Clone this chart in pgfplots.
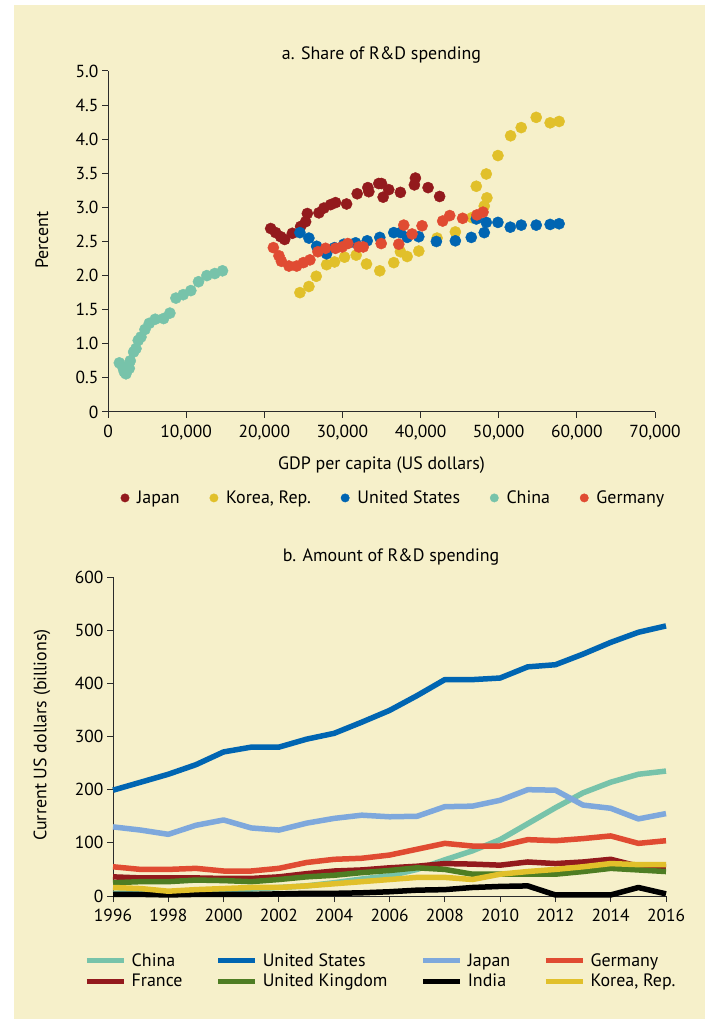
\documentclass[border=0pt]{standalone}
\usepackage{fontspec}
\setmainfont{PT Sans}
\usepackage{pgfplots}
\pgfplotsset{compat=1.18}

\definecolor{bg}{HTML}{F6F0CA}
\definecolor{axisc}{HTML}{2B2B2B}
\definecolor{jp}{HTML}{931A1D}
\definecolor{kr}{HTML}{E1C02A}
\definecolor{us}{HTML}{0065B2}
\definecolor{cn}{HTML}{77C3AA}
\definecolor{de}{HTML}{E04B32}
\definecolor{jpl}{HTML}{7EA8DC}
\definecolor{uk}{HTML}{4E7D23}

\pgfplotsset{
  rd/.style={
    scale only axis,
    axis lines=left,
    axis line style={-, line width=1bp, color=axisc},
    tick align=outside,
    major tick length=6bp,
    tick style={line width=1bp, color=axisc},
    /pgf/number format/assume math mode=true,
    tick label style={font=\fontsize{17.5}{20}\selectfont, color=black},
    xticklabel style={yshift=-4bp},
    label style={font=\fontsize{18}{21}\selectfont},
    title style={font=\fontsize{18}{21}\selectfont},
    legend style={draw=none, fill=none, font=\fontsize{18}{21}\selectfont},
    legend cell align=left,
    clip=false,
  },
}

\begin{document}
\begin{tikzpicture}
\fill[white] (0bp,0bp) rectangle (705bp,1019bp);
\fill[bg] (14bp,0bp) rectangle (705bp,1014bp);

% a. share of R&D spending
\begin{axis}[rd,
  at={(108bp,607bp)}, anchor=south west,
  width=547bp, height=341bp,
  xmin=0, xmax=70000, ymin=0, ymax=5,
  scaled x ticks=false,
  xtick={0,10000,20000,30000,40000,50000,60000,70000},
  xticklabels={0,{10,000},{20,000},{30,000},{40,000},{50,000},{60,000},{70,000}},
  ytick={0,0.5,1,1.5,2,2.5,3,3.5,4,4.5,5},
  yticklabels={0,0.5,1.0,1.5,2.0,2.5,3.0,3.5,4.0,4.5,5.0},
  title={a. Share of R\&D spending},
  title style={at={(axis description cs:0.5,1)}, anchor=center, yshift=10bp},
  xlabel={GDP per capita (US dollars)},
  xlabel style={at={(axis description cs:0.5,0)}, anchor=center, yshift=-53bp},
  ylabel={Percent},
  ylabel style={at={(axis description cs:-0.1207,0.504)}, anchor=center},
  legend columns=5,
  legend style={at={(0.522,-0.252)}, anchor=center,
    /tikz/every odd column/.append style={column sep=6bp},
    /tikz/every even column/.append style={column sep=28bp}},
  legend image code/.code={\draw[#1] plot coordinates {(0bp,0bp)};},
  legend image post style={mark size=4.2bp},
]
\addplot[only marks, mark=*, mark size=5.6bp, color=jp] coordinates {
 (20820,2.69) (21460,2.63) (22100,2.57) (22610,2.53) (23590,2.62) (24650,2.72)
 (25290,2.79) (25510,2.91) (26990,2.92) (27630,2.99) (28480,3.04) (29120,3.07)
 (30530,3.05) (31890,3.20) (33250,3.29) (33380,3.23) (34650,3.35) (35000,3.35)
 (35210,3.15) (35930,3.26) (37420,3.22) (39210,3.33) (39340,3.43) (40960,3.29)
 (42440,3.16)
};
\addlegendentry{Japan}
\addplot[only marks, mark=*, mark size=5.6bp, color=kr] coordinates {
 (24560,1.75) (25710,1.84) (26650,1.99) (27970,2.16) (28990,2.20) (30270,2.27)
 (31760,2.30) (33080,2.17) (34780,2.07) (36570,2.19) (37420,2.35) (38280,2.28)
 (39770,2.36) (42110,2.55) (44450,2.64) (46580,2.85) (48150,3.02) (48490,3.14)
 (47130,3.31) (48410,3.49) (49900,3.76) (51520,4.05) (52880,4.17) (54800,4.32)
 (56580,4.24) (57730,4.26)
};
\addlegendentry{Korea, Rep.}
\addplot[only marks, mark=*, mark size=5.6bp, color=us] coordinates {
 (24560,2.63) (25710,2.55) (26700,2.43) (27970,2.32) (28990,2.41) (30180,2.46)
 (31680,2.48) (33170,2.51) (34780,2.56) (36570,2.63) (37420,2.63) (38280,2.56)
 (39770,2.57) (42020,2.50) (44450,2.51) (46490,2.56) (48150,2.63) (47130,2.83)
 (48410,2.78) (49900,2.78) (51480,2.71) (52880,2.74) (54800,2.74) (56580,2.75)
 (57730,2.76)
};
\addlegendentry{United States}
\addplot[only marks, mark=*, mark size=5.6bp, color=cn] coordinates {
 (1450,0.72) (1880,0.66) (2080,0.59) (2300,0.56) (2720,0.64) (2850,0.75)
 (3280,0.88) (3580,0.93) (3870,1.05) (4220,1.10) (4730,1.21) (5280,1.30)
 (6040,1.36) (7110,1.37) (7920,1.45) (8690,1.67) (9620,1.72) (10600,1.78)
 (11580,1.91) (12650,2.00) (13670,2.03) (14650,2.07)
};
\addlegendentry{China}
\addplot[only marks, mark=*, mark size=5.6bp, color=de] coordinates {
 (21160,2.41) (21880,2.29) (22190,2.21) (23160,2.14) (24140,2.14) (25000,2.19)
 (25840,2.23) (26860,2.35) (27840,2.40) (29120,2.40) (29970,2.42) (30690,2.47)
 (32100,2.42) (32660,2.42) (34960,2.47) (37210,2.46) (37850,2.74) (38910,2.61)
 (40190,2.73) (42830,2.80) (43730,2.88) (45380,2.84) (47220,2.89) (47990,2.93)
};
\addlegendentry{Germany}
\end{axis}

% b. amount of R&D spending
\begin{axis}[rd,
  at={(113bp,123bp)}, anchor=south west,
  width=553bp, height=319bp,
  xmin=1996, xmax=2016, ymin=0, ymax=600,
  xtick={1996,1998,...,2016},
  ytick={0,100,...,600},
  xticklabel style={/pgf/number format/1000 sep=},
  title={b. Amount of R\&D spending},
  title style={at={(axis description cs:0.503,1)}, anchor=center, yshift=14bp},
  ylabel={Current US dollars (billions)},
  ylabel style={at={(axis description cs:-0.1284,0.505)}, anchor=center},
  legend columns=4,
  legend style={at={(0.4845,-0.235)}, anchor=center,
    /tikz/every even column/.append style={column sep=31bp},
    /tikz/row sep=2bp},
  legend image code/.code={\draw[#1, line width=5bp] (0bp,0bp) -- (37bp,0bp); \path (40bp,0bp);},
  every axis plot/.append style={line width=5.5bp, line join=round, no marks},
]
\addplot[color=cn] coordinates {
 (1996,5) (1997,6) (1998,6.5) (1999,8) (2000,11) (2001,13) (2002,16) (2003,19)
 (2004,25) (2005,32) (2006,38) (2007,50) (2008,68) (2009,85) (2010,106)
 (2011,136) (2012,166) (2013,194) (2014,214) (2015,229) (2016,235)
};
\addlegendentry{China}
\addplot[color=us] coordinates {
 (1996,199) (1997,214) (1998,229) (1999,247) (2000,271) (2001,280) (2002,280)
 (2003,295) (2004,306) (2005,327) (2006,349) (2007,377) (2008,407) (2009,407)
 (2010,410) (2011,431) (2012,435) (2013,455) (2014,477) (2015,496) (2016,508)
};
\addlegendentry{United States}
\addplot[color=jpl] coordinates {
 (1996,130) (1997,124) (1998,116) (1999,133) (2000,143) (2001,128) (2002,124)
 (2003,137) (2004,146) (2005,152) (2006,149) (2007,150) (2008,168) (2009,169)
 (2010,180) (2011,200) (2012,199) (2013,171) (2014,165) (2015,145) (2016,155)
};
\addlegendentry{Japan}
\addplot[color=de] coordinates {
 (1996,55) (1997,50) (1998,50) (1999,52) (2000,47) (2001,47) (2002,52) (2003,63)
 (2004,69) (2005,71) (2006,77) (2007,88) (2008,99) (2009,94) (2010,94)
 (2011,106) (2012,104) (2013,108) (2014,113) (2015,99) (2016,104)
};
\addlegendentry{Germany}
\addplot[color=jp] coordinates {
 (1996,36) (1997,34) (1998,34) (1999,34) (2000,33) (2001,33) (2002,36) (2003,42)
 (2004,47) (2005,49) (2006,53) (2007,56) (2008,61) (2009,60) (2010,58)
 (2011,64) (2012,61) (2013,64) (2014,69) (2015,56) (2016,55)
};
\addlegendentry{France}
\addplot[color=uk] coordinates {
 (1996,25) (1997,27) (1998,27) (1999,30) (2000,29) (2001,27) (2002,31) (2003,36)
 (2004,39) (2005,44) (2006,48) (2007,53) (2008,50) (2009,41) (2010,41)
 (2011,41) (2012,41) (2013,46) (2014,52) (2015,49) (2016,46)
};
\addlegendentry{United Kingdom}
\addplot[color=black] coordinates {
 (1996,3) (1997,3) (1998,2) (1999,3) (2000,3) (2001,3) (2002,4) (2003,5)
 (2004,5) (2005,6) (2006,8) (2007,11) (2008,12) (2009,16) (2010,18)
 (2011,19) (2012,2) (2013,2) (2014,2) (2015,16) (2016,4)
};
\addlegendentry{India}
\addplot[color=kr] coordinates {
 (1996,16) (1997,14) (1998,9) (1999,12) (2000,14) (2001,16) (2002,16) (2003,19)
 (2004,23) (2005,27) (2006,31) (2007,35) (2008,35) (2009,31) (2010,41)
 (2011,46) (2012,50) (2013,55) (2014,61) (2015,59) (2016,59)
};
\addlegendentry{Korea, Rep.}
\end{axis}
\end{tikzpicture}
\end{document}
